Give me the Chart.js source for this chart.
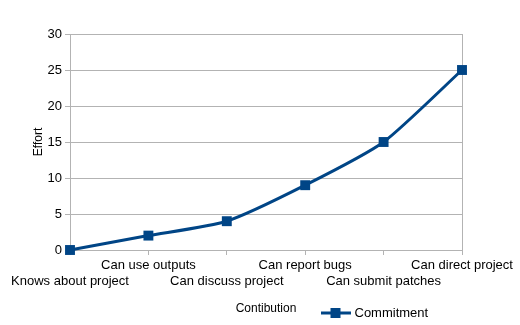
<!DOCTYPE html>
<html><head><meta charset="utf-8">
<script src="https://cdn.jsdelivr.net/npm/chart.js"></script>
<style>html,body{margin:0;padding:0;background:#fff}#wrap{width:520px;height:325px}</style>
</head><body><div id="wrap"><canvas id="c" width="520" height="325"></canvas></div>
<script>
const categories = ['Knows about project','Can use outputs','Can discuss project','Can report bugs','Can submit patches','Can direct project'];
const commitment = [0, 2, 4, 9, 15, 25];
const yMin = 0, yMax = 30, yStep = 5;
const seriesName = 'Commitment';
const xTitle = 'Contibution';
const yTitle = 'Effort';

const BLUE = '#004586';
const GRID = '#b3b3b3';
const FONT = "'Liberation Sans', Arial, sans-serif";

// legend icon: line with square marker
const icon = document.createElement('canvas');
icon.width = 30; icon.height = 12;
(function(){
  const g = icon.getContext('2d');
  g.strokeStyle = BLUE; g.lineWidth = 3;
  g.beginPath(); g.moveTo(0, 6); g.lineTo(30, 6); g.stroke();
  g.fillStyle = BLUE; g.fillRect(10, 1, 10, 10);
})();

const legendMover = {
  id: 'legendMover',
  afterLayout(chart) {
    const l = chart.legend;
    if (!l) return;
    const p = l.options.labels.padding;
    l.left = 323 - p; l.right = l.left + 220;
    const h = l.bottom - l.top;
    l.top = 313 - 6.5 - p; l.bottom = l.top + h;
  }
};

new Chart(document.getElementById('c'), {
  type: 'line',
  data: {
    labels: categories,
    datasets: [{
      label: seriesName,
      data: commitment,
      borderColor: BLUE,
      backgroundColor: BLUE,
      borderWidth: 3,
      tension: 0.2,
      pointStyle: 'rect',
      pointRadius: 7,
      pointHoverRadius: 7,
      pointBorderWidth: 0,
      pointBackgroundColor: BLUE,
      clip: false
    }]
  },
  plugins: [legendMover],
  options: {
    responsive: false,
    animation: false,
    devicePixelRatio: 1,
    layout: { padding: { top: 34, left: 31, right: 0, bottom: -16 } },
    plugins: {
      tooltip: { enabled: false },
      legend: {
        position: 'bottom',
        align: 'start',
        labels: {
          usePointStyle: true,
          pointStyle: icon,
          pointStyleWidth: 25,
          padding: 4,
          color: '#000',
          font: { family: FONT, size: 13 }
        }
      }
    },
    scales: {
      x: {
        offset: false,
        afterFit(s) { s.height = 64; s.paddingRight = 58; },
        grid: {
          color: ctx => (ctx.index === categories.length - 1 ? GRID : 'rgba(0,0,0,0)'),
          tickColor: GRID,
          tickLength: 5,
          lineWidth: 1
        },
        border: { display: true, color: GRID },
        ticks: {
          autoSkip: false, maxRotation: 0, minRotation: 0, padding: 3,
          color: '#000',
          font: { family: FONT, size: 13 },
          callback: (v, i) => (i % 2 ? [categories[i], ''] : ['', categories[i]])
        },
        title: { display: true, text: xTitle, color: '#000', font: { family: FONT, size: 12 }, padding: { top: 0, bottom: -2 } }
      },
      y: {
        min: yMin, max: yMax,
        afterFit(s) { s.width = 39; },
        grid: { color: GRID, tickColor: GRID, tickLength: 5 },
        border: { display: true, color: GRID },
        ticks: { stepSize: yStep, padding: 3, color: '#000', font: { family: FONT, size: 13 } },
        title: { display: true, text: yTitle, color: '#000', font: { family: FONT, size: 12 }, padding: { top: 0, bottom: 0 } }
      }
    }
  }
});
</script>
</body></html>
